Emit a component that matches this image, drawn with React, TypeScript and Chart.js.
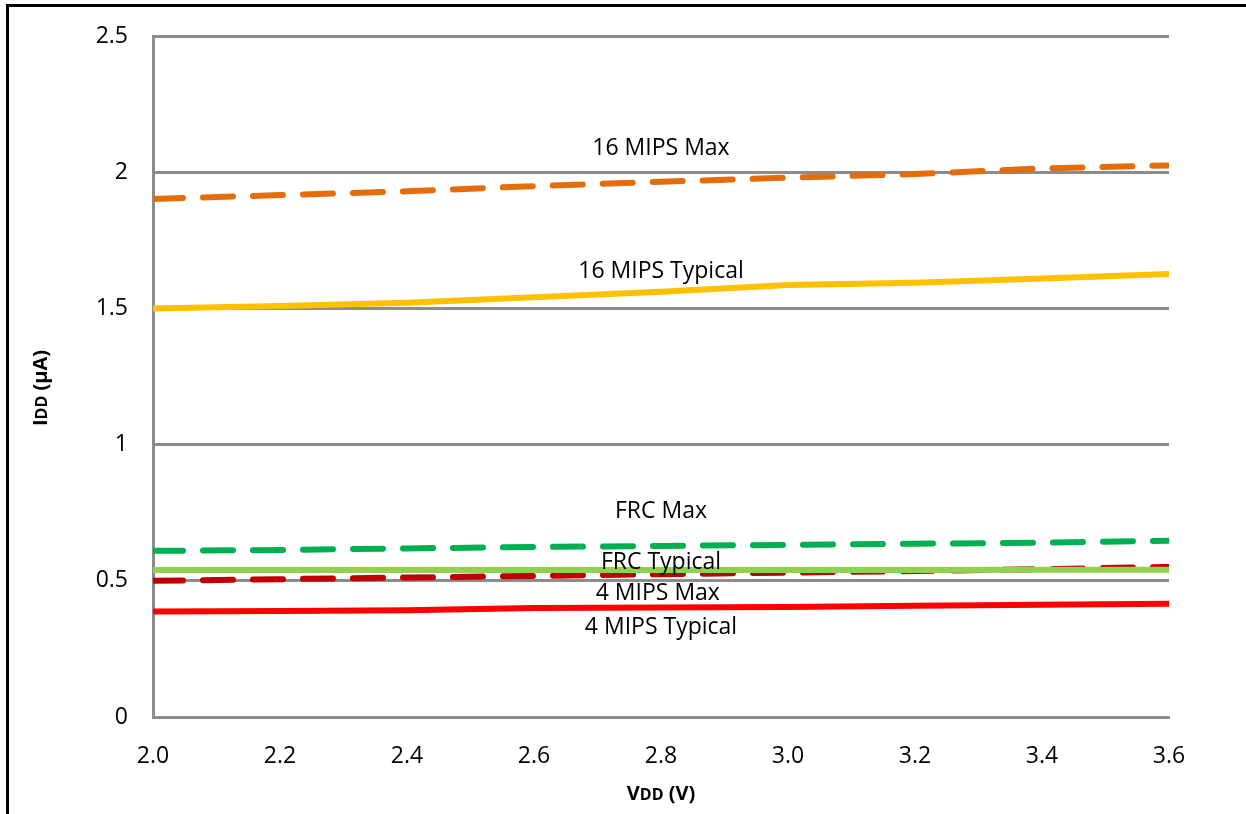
import React, { useEffect, useRef } from "react";
import { Chart, registerables } from "chart.js";

Chart.register(...registerables);

const vdd = [2.0, 2.2, 2.4, 2.6, 2.8, 3.0, 3.2, 3.4, 3.6];
const mips16Max = [1.902, 1.916, 1.93, 1.949, 1.965, 1.98, 1.993, 2.014, 2.025];
const mips16Typ = [1.5, 1.509, 1.521, 1.541, 1.561, 1.586, 1.594, 1.61, 1.626];
const frcMax = [0.61, 0.613, 0.619, 0.624, 0.628, 0.632, 0.636, 0.64, 0.647];
const frcTyp = [0.54, 0.54, 0.54, 0.54, 0.54, 0.54, 0.54, 0.541, 0.541];
const mips4Max = [0.5, 0.506, 0.512, 0.518, 0.524, 0.53, 0.536, 0.543, 0.551];
const mips4Typ = [0.387, 0.389, 0.392, 0.4, 0.402, 0.404, 0.408, 0.412, 0.416];

const yTicks = [0, 0.5, 1, 1.5, 2, 2.5];
const xTicks = [2.0, 2.2, 2.4, 2.6, 2.8, 3.0, 3.2, 3.4, 3.6];

const seriesLabels = ["16 MIPS Max", "16 MIPS Typical", "FRC Max", "FRC Typical", "4 MIPS Max", "4 MIPS Typical"];
const labelX = [2.8, 2.8, 2.8, 2.8, 2.795, 2.8];
const labelY = [2.089, 1.637, 0.753, 0.569, 0.452, 0.33];

const FONT = "'Open Sans', Lato, sans-serif";

const pts = (ys: number[]) => vdd.map((x, i) => ({ x, y: ys[i] }));

export default function App() {
  const ref = useRef<HTMLCanvasElement>(null);
  useEffect(() => {
    const overlay = {
      id: "overlay",
      afterDatasetsDraw(chart: any) {
        const ctx = chart.ctx;
        const xs = chart.scales.x;
        const ys = chart.scales.y;
        ctx.save();
        ctx.fillStyle = "#000";
        ctx.font = `23px ${FONT}`;
        ctx.textAlign = "center";
        ctx.textBaseline = "middle";
        seriesLabels.forEach((t, i) => {
          ctx.fillText(t, xs.getPixelForValue(labelX[i]), ys.getPixelForValue(labelY[i]));
        });
        ctx.restore();
      },
      afterDraw(chart: any) {
        const ctx = chart.ctx;
        ctx.save();
        ctx.strokeStyle = "#000";
        ctx.lineWidth = 3;
        ctx.beginPath();
        ctx.moveTo(7.5, 900);
        ctx.lineTo(7.5, 5.5);
        ctx.lineTo(1300, 5.5);
        ctx.stroke();
        const drawParts = (parts: [string, number][], cx: number, cy: number, rot: number) => {
          ctx.save();
          ctx.translate(cx, cy);
          ctx.rotate(rot);
          ctx.textBaseline = "alphabetic";
          ctx.textAlign = "left";
          let total = 0;
          parts.forEach(([t, s]) => {
            ctx.font = `bold ${s}px ${FONT}`;
            total += ctx.measureText(t).width;
          });
          let x = -total / 2;
          parts.forEach(([t, s]) => {
            ctx.font = `bold ${s}px ${FONT}`;
            ctx.fillText(t, x, 7);
            x += ctx.measureText(t).width;
          });
          ctx.restore();
        };
        ctx.fillStyle = "#000";
        drawParts([["I", 20], ["DD", 16], [" (µA)", 20]], 40, 388, -Math.PI / 2);
        drawParts([["V", 20], ["DD", 16], [" (V)", 20]], 661, 793, 0);
        ctx.restore();
      },
    };

    const chart = new Chart(ref.current!, {
      type: "line",
      data: {
        datasets: [
          { label: seriesLabels[0], data: pts(mips16Max), borderColor: "#E46C0A", borderDash: [30, 20], borderCapStyle: "round", order: 6 },
          { label: seriesLabels[1], data: pts(mips16Typ), borderColor: "#FFC000", order: 5 },
          { label: seriesLabels[2], data: pts(frcMax), borderColor: "#00B050", borderDash: [30, 20], borderCapStyle: "round", order: 4 },
          { label: seriesLabels[4], data: pts(mips4Max), borderColor: "#C00000", borderDash: [30, 20], borderCapStyle: "round", order: 3 },
          { label: seriesLabels[3], data: pts(frcTyp), borderColor: "#92D050", order: 2 },
          { label: seriesLabels[5], data: pts(mips4Typ), borderColor: "#FF0000", order: 1 },
        ].map((d) => ({ ...d, borderWidth: 6, pointRadius: 0, fill: false, tension: 0 })) as any,
      },
      options: {
        animation: false,
        responsive: false,
        maintainAspectRatio: false,
        layout: { padding: { top: 36, right: 77, left: 0, bottom: 0 } },
        plugins: { legend: { display: false }, tooltip: { enabled: false }, title: { display: false } },
        scales: {
          x: {
            type: "linear",
            min: 2.0,
            max: 3.6,
            afterBuildTicks: (s: any) => {
              s.ticks = xTicks.map((v) => ({ value: v }));
            },
            afterFit: (s: any) => {
              s.height = 97;
              s.paddingLeft = 0;
              s.paddingRight = 0;
            },
            grid: { display: false, drawTicks: false },
            border: { display: true, color: "#8C8C8C", width: 3 },
            ticks: {
              color: "#000",
              font: { family: FONT, size: 23 },
              padding: 26,
              maxRotation: 0,
              callback: (v: any) => Number(v).toFixed(1),
            },
          },
          y: {
            type: "linear",
            min: 0,
            max: 2.5,
            afterBuildTicks: (s: any) => {
              s.ticks = yTicks.map((v) => ({ value: v }));
            },
            afterFit: (s: any) => {
              s.width = 153;
              s.paddingTop = 0;
              s.paddingBottom = 0;
            },
            grid: { color: "#8C8C8C", lineWidth: 3, drawTicks: false },
            border: { display: true, color: "#8C8C8C", width: 3 },
            ticks: {
              color: "#000",
              font: { family: FONT, size: 23 },
              padding: 25,
              callback: (v: any) => String(v),
            },
          },
        },
      },
      plugins: [overlay],
    });
    return () => chart.destroy();
  }, []);

  return (
    <div style={{ position: "fixed", left: 0, top: 0, width: 1246, height: 814, background: "#fff" }}>
      <canvas ref={ref} width={1246} height={814} style={{ width: 1246, height: 814 }} />
    </div>
  );
}
